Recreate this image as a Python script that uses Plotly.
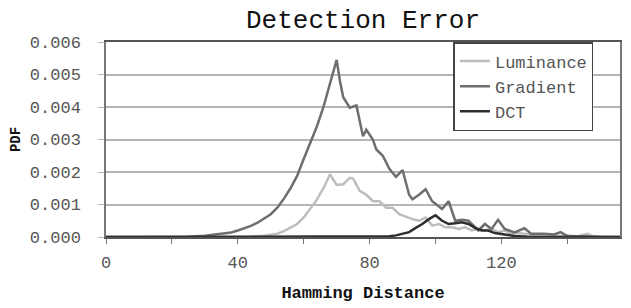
import plotly.graph_objects as go

# Hamming distance sample points and PDF values
grad_x = [0, 10, 20, 25, 30, 34, 38, 40, 42, 44, 46, 48, 50, 52, 54, 56, 58, 60, 62, 64, 66, 68, 70,
          71, 72, 74, 76, 78, 79, 81, 82, 84, 86, 88, 90, 92, 93, 95, 97, 99, 102, 104, 106, 108, 110,
          113, 115, 117, 119, 121, 124, 127, 129, 133, 136, 138, 140, 145, 150, 156]
grad_y = [0, 0, 0, 0.00001, 0.00004, 0.00008, 0.00014, 0.0002, 0.00026, 0.00034, 0.00044, 0.00056,
          0.0007, 0.0009, 0.00118, 0.0015, 0.00188, 0.0024, 0.0029, 0.0034, 0.004, 0.0047, 0.00545,
          0.0048, 0.0043, 0.00398, 0.00405, 0.0031, 0.0033, 0.0030, 0.0027, 0.0025, 0.0021, 0.00185,
          0.00206, 0.0013, 0.00116, 0.0013, 0.00147, 0.0011, 0.00086, 0.0011, 0.0005, 0.00053, 0.0005,
          0.0002, 0.0004, 0.00025, 0.00053, 0.00025, 0.00014, 0.00027, 0.0001, 0.0001, 0.00008,
          0.00015, 0.00003, 0.00002, 0, 0]

lum_x = [0, 20, 40, 44, 48, 50, 52, 54, 56, 58, 60, 62, 64, 66, 68, 70, 72, 74, 75, 77, 79, 81, 83,
         85, 87, 89, 91, 93, 95, 97, 99, 101, 103, 105, 107, 109, 111, 113, 115, 117, 119, 121, 123,
         125, 127, 130, 133, 136, 140, 143, 146, 148, 152, 156]
lum_y = [0, 0, 0, 0.00001, 0.00004, 0.00007, 0.0001, 0.00018, 0.00028, 0.0004, 0.0006, 0.00088,
         0.00115, 0.0015, 0.00193, 0.0016, 0.00162, 0.00182, 0.0018, 0.00142, 0.0013, 0.0011, 0.0011,
         0.0009, 0.0009, 0.0007, 0.00062, 0.00055, 0.0005, 0.0006, 0.00035, 0.0004, 0.0003, 0.0003,
         0.00025, 0.0003, 0.0002, 0.00025, 0.0002, 0.00025, 0.00015, 0.0002, 0.0001, 0.00012, 0.0001,
         0.00005, 0.00008, 0.00003, 0.00005, 0.00002, 0.0001, 0.00002, 0, 0]

dct_x = [0, 40, 84, 86, 88, 90, 92, 94, 96, 98, 100, 102, 104, 106, 108, 110, 112, 114, 116, 118,
         120, 122, 124, 128, 135, 156]
dct_y = [0, 0, 0, 0.00002, 0.00005, 0.0001, 0.00015, 0.00028, 0.0004, 0.00055, 0.00067, 0.0005,
         0.0004, 0.00042, 0.00045, 0.0004, 0.00028, 0.0002, 0.0002, 0.00012, 0.0001, 0.00006,
         0.00003, 0.00001, 0, 0]

series_names = ["Luminance", "Gradient", "DCT"]
x_ticks = [0, 40, 80, 120]
y_ticks = [0, 0.001, 0.002, 0.003, 0.004, 0.005, 0.006]

FONT = "Liberation Mono"

fig = go.Figure()
fig.add_trace(go.Scatter(x=lum_x, y=lum_y, mode="lines", name=series_names[0],
                         line=dict(color="#bdbdbd", width=2.5)))
fig.add_trace(go.Scatter(x=grad_x, y=grad_y, mode="lines", name=series_names[1],
                         line=dict(color="#6e6e6e", width=2.5)))
fig.add_trace(go.Scatter(x=dct_x, y=dct_y, mode="lines", name=series_names[2],
                         line=dict(color="#2e2e2e", width=2.5)))

fig.update_layout(
    width=631, height=308,
    margin=dict(l=106, r=9, t=42, b=70),
    paper_bgcolor="white", plot_bgcolor="white",
    font=dict(family=FONT, color="#333333"),
    title=dict(text="Detection Error", x=0.5, xref="paper", xanchor="center",
               y=0.94, yanchor="middle",
               font=dict(family=FONT, size=26, color="#111111")),
    showlegend=True,
    legend=dict(x=0.676, y=1.0, xanchor="left", yanchor="top",
                bgcolor="white", bordercolor="#444444", borderwidth=1.5,
                font=dict(family=FONT, size=17, color="#555555"),
                tracegroupgap=0, itemwidth=30),
)
fig.update_xaxes(range=[0, 156], tickvals=x_ticks, ticktext=[str(v) for v in x_ticks],
                 showgrid=False, zeroline=False,
                 showline=True, linecolor="#555555", linewidth=1.5, mirror=True,
                 ticks="outside", ticklen=5, tickcolor="#777777",
                 minor=dict(dtick=20, tick0=0, ticks="outside", ticklen=5, tickcolor="#777777"),
                 tickfont=dict(family=FONT, size=17, color="#555555"),
                 ticklabelstandoff=4,
                 title=dict(text="<b>Hamming Distance</b>", font=dict(family=FONT, size=17, color="#111111"),
                            standoff=14))
fig.update_yaxes(range=[0, 0.006], tickvals=y_ticks, ticktext=["%.3f" % v for v in y_ticks],
                 showgrid=True, gridcolor="#b5b5b5", gridwidth=1.5, zeroline=False,
                 showline=True, linecolor="#777777", linewidth=1.5, mirror=True,
                 ticks="outside", ticklen=6, tickcolor="#b5b5b5",
                 tickfont=dict(family=FONT, size=17, color="#555555"),
                 ticklabelstandoff=14,
                 title=dict(text="<b>PDF</b>", font=dict(family=FONT, size=14, color="#111111"),
                            standoff=6))

fig.write_html("out.html")
